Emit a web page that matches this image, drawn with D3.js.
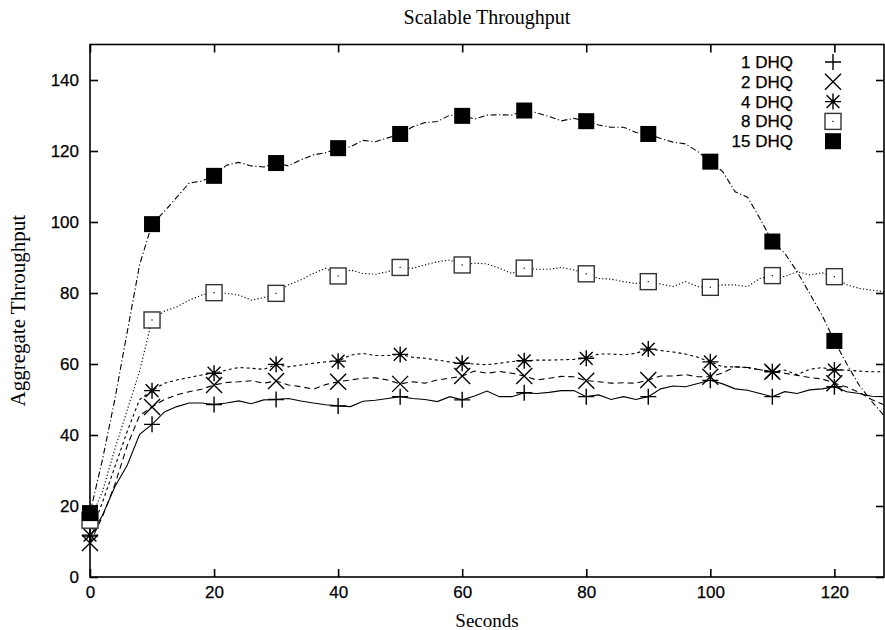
<!doctype html>
<html lang="en">
  <head>
    <meta charset="utf-8">
    <title>Scalable Throughput</title>
    <style>
      body { margin: 0; background: #fff; }
    </style>
  </head>
  <body>
    <div class="container"></div>

    <script src="https://cdn.jsdelivr.net/npm/d3@7"></script>
    <script>

    // seconds at which the throughput was sampled
    var seconds = [0,2,4,6,8,10,12,14,16,18,20,22,24,26,28,30,32,34,36,38,40,42,44,46,48,50,52,54,56,58,60,62,64,
      66,68,70,72,74,76,78,80,82,84,86,88,90,92,94,96,98,100,102,104,106,108,110,112,114,116,118,120,122,124,126,128];

    var dhq1 = [11.5,17.3,25.4,31.5,40.2,43,46.5,48,49,49, 48.6,49,49.6,48.8,49.9,50,50.3,49.6,49,48.5,
      48.2,48,49.5,49.8,50.3,50.8,50.3,50,49.4,50.8, 49.9,51,52.4,50.8,50.8,51.9,51.7,52,52.5,52.5,
      50.8,51.3,50,50.8,50,50.8,53,53.8,53.6,54.5, 55.4,54.4,53,52.6,51.7,50.8,52.2,51.7,52.7,53,
      53.6,52.2,51.7,50.9,50.8];

    var dhq2 = [9.6,17,26,37,45.5,47.9,50,51.3,52.2,52.9, 54.1,54.8,55,55.3,54.6,55.2,54.1,53.6,52.9,54.2,
      55,55.5,56,56.1,55.5,54.4,55,54.6,55.5,56, 56.6,58,57.4,57.9,57.4,56.6,55.5,56,56.5,56.4,
      55.3,55,54.6,54.7,54.6,55.5,56.6,56.6,57,56.4, 56.4,57.5,59.2,59,58.4,57.8,57.4,56.8,56.2,55.8,
      54.6,53.5,52,50,48.5];

    var dhq4 = [11.8,21,31,41,50,52.5,54.6,55.5,56.2,56.9, 57.4,58.3,59,58.8,58.5,59.9,59.2,59.7,60.2,60.6,
      60.8,62.5,63,62.4,62.4,62.7,61.9,61.6,61.1,60.6, 60.2,60,59.8,60.2,60.7,60.9,61.1,61.1,61.2,61.3,
      61.6,62.8,62.8,62.6,63,64.2,63.8,63.4,62.8,61.9, 60.6,59.2,59.2,59,58.4,57.8,58.3,57,58.5,59,
      58.3,58.3,58,57.8,57.8];

    var dhq8 = [16,24,36,47,58,72.4,74.9,76.1,78,79.4, 80.1,79.9,79.4,78,78.7,79.9,82.3,83.7,85.5,87,
      84.8,86.5,85.5,85.3,86,87.2,87,87.9,88.8,89.3, 87.9,88.4,88.2,87,85.5,87,86.7,86.7,87.2,86.5,
      85.4,84.1,83.9,83.2,82.7,83.2,82.5,81.8,83.2,81.8, 81.6,82.3,82.3,81.8,84.1,84.9,84.6,86,85.1,85.7,
      84.6,82.3,81.3,80.8,80.4];

    var dhq15 = [18,33,50,69,88,99.4,103,107,111,111.5, 113,116,116.8,115.8,115.5,116.6,115.8,117.5,118.9,119.5,
      120.8,121.2,123,122.6,123.7,124.8,126.8,128,128.3,130.1, 129.9,129,130.1,130.2,130.1,131.4,130.8,129.7,128.5,129.2,
      128.4,127.3,126.7,126.7,125.2,124.8,123.5,122.5,122,119.8, 117,114.2,108.5,107,101,94.5,91.2,86,79.9,73.8,
      66.5,60,54,49.5,45.5];

    var seriesNames = ["1 DHQ", "2 DHQ", "4 DHQ", "8 DHQ", "15 DHQ"];
    var seriesValues = [dhq1, dhq2, dhq4, dhq8, dhq15];
    var xTicks = [0, 20, 40, 60, 80, 100, 120];
    var yTicks = [0, 20, 40, 60, 80, 100, 120, 140];

    // gnuplot style line types
    var dashes = [null, "6,4", "3,3", "1.2,2.2", "6,2.5,1.2,2.5"];
    var symbols = ["plus", "cross", "star", "box", "fbox"];

    var W = 885, H = 630;
    var plotLeft = 90, plotRight = 884, plotTop = 44.5, plotBottom = 577;

    var svg = d3.select(".container")
        .append("svg")
        .attr("width", W)
        .attr("height", H);

    var x = d3.scaleLinear().domain([0, 128]).range([plotLeft, plotRight]);
    var y = d3.scaleLinear().domain([0, 150]).range([plotBottom, plotTop]);

    var sans = "'Liberation Sans', Arial, Helvetica, sans-serif";
    var serif = "'Liberation Serif', 'Times New Roman', serif";

    // axes, ticks pointing inward, mirrored on the opposite sides
    var tickLen = 8;
    svg.append("g")
      .attr("transform", "translate(0," + plotBottom + ")")
      .call(d3.axisBottom(x).tickValues(xTicks).tickSize(-tickLen).tickPadding(9))
      .call(styleAxis);
    svg.append("g")
      .attr("transform", "translate(0," + plotTop + ")")
      .call(d3.axisTop(x).tickValues(xTicks).tickSize(-tickLen).tickFormat(""))
      .call(styleAxis);
    svg.append("g")
      .attr("transform", "translate(" + plotLeft + ",0)")
      .call(d3.axisLeft(y).tickValues(yTicks).tickSize(-tickLen).tickPadding(11))
      .call(styleAxis);
    svg.append("g")
      .attr("transform", "translate(" + plotRight + ",0)")
      .call(d3.axisRight(y).tickValues(yTicks).tickSize(-tickLen).tickFormat(""))
      .call(styleAxis);

    function styleAxis(g) {
      g.select(".domain").remove();
      g.selectAll(".tick line").attr("stroke", "#000").attr("stroke-width", 1.6);
      g.selectAll(".tick text")
        .attr("font-family", sans)
        .attr("font-size", 17)
        .attr("fill", "#000")
        .attr("stroke", "#000")
        .attr("stroke-width", 0.25);
    }

    svg.append("rect")
      .attr("x", plotLeft).attr("y", plotTop)
      .attr("width", plotRight - plotLeft).attr("height", plotBottom - plotTop)
      .attr("fill", "none")
      .attr("stroke", "#000")
      .attr("stroke-width", 1.6);

    // titles
    svg.append("text")
      .attr("x", (plotLeft + plotRight) / 2).attr("y", 24)
      .attr("text-anchor", "middle")
      .attr("font-family", serif).attr("font-size", 20)
      .text("Scalable Throughput");
    svg.append("text")
      .attr("x", (plotLeft + plotRight) / 2).attr("y", 627)
      .attr("text-anchor", "middle")
      .attr("font-family", serif).attr("font-size", 19)
      .text("Seconds");
    svg.append("text")
      .attr("transform", "translate(25," + (plotTop + plotBottom) / 2 + ") rotate(-90)")
      .attr("text-anchor", "middle")
      .attr("font-family", serif).attr("font-size", 21)
      .text("Aggregate Throughput");

    var line = d3.line()
      .x(function(d, i){ return x(seconds[i]); })
      .y(function(d){ return y(d); });

    var plot = svg.append("g");

    seriesValues.forEach(function(vals, k){
      plot.append("path")
        .datum(vals)
        .attr("d", line)
        .attr("fill", "none")
        .attr("stroke", "#000")
        .attr("stroke-width", 1.1)
        .attr("stroke-dasharray", dashes[k]);
    });

    function drawSymbol(g, type, cx, cy) {
      var s = 8;
      var p = g.append("g").attr("transform", "translate(" + cx + "," + cy + ")");
      var st = function(sel){ return sel.attr("stroke", "#000").attr("stroke-width", 1.4).attr("fill", "none"); };
      if (type == "plus" || type == "star") {
        p.append("path").attr("d", "M" + (-s) + ",0H" + s + "M0," + (-s) + "V" + s).call(st);
      }
      if (type == "cross" || type == "star") {
        var c = type == "star" ? s * 0.8 : s;
        p.append("path").attr("d", "M" + (-c) + "," + (-c) + "L" + c + "," + c + "M" + (-c) + "," + c + "L" + c + "," + (-c)).call(st);
      }
      if (type == "star") {
        p.append("circle").attr("r", 2).attr("fill", "#000");
      }
      if (type == "box") {
        p.append("rect").attr("x", -s).attr("y", -s).attr("width", 2 * s).attr("height", 2 * s)
          .attr("fill", "#fff").attr("stroke", "#333").attr("stroke-width", 1.4);
        p.append("rect").attr("x", -0.6).attr("y", -0.6).attr("width", 1.2).attr("height", 1.2).attr("fill", "#000");
      }
      if (type == "fbox") {
        p.append("rect").attr("x", -s).attr("y", -s).attr("width", 2 * s).attr("height", 2 * s)
          .attr("fill", "#000");
      }
    }

    // points every 10 seconds
    seriesValues.forEach(function(vals, k){
      seconds.forEach(function(t, i){
        if (t % 10 == 0) drawSymbol(plot, symbols[k], x(t), y(vals[i]));
      });
    });

    // legend
    var legend = svg.append("g");
    seriesNames.forEach(function(name, k){
      var ly = 62 + k * 19.8;
      legend.append("text")
        .attr("x", 793).attr("y", ly)
        .attr("dy", "0.35em")
        .attr("text-anchor", "end")
        .attr("font-family", sans).attr("font-size", 17)
        .attr("stroke", "#000").attr("stroke-width", 0.25)
        .text(name);
      drawSymbol(legend, symbols[k], 833, ly);
    });

    </script>
  </body>
</html>
